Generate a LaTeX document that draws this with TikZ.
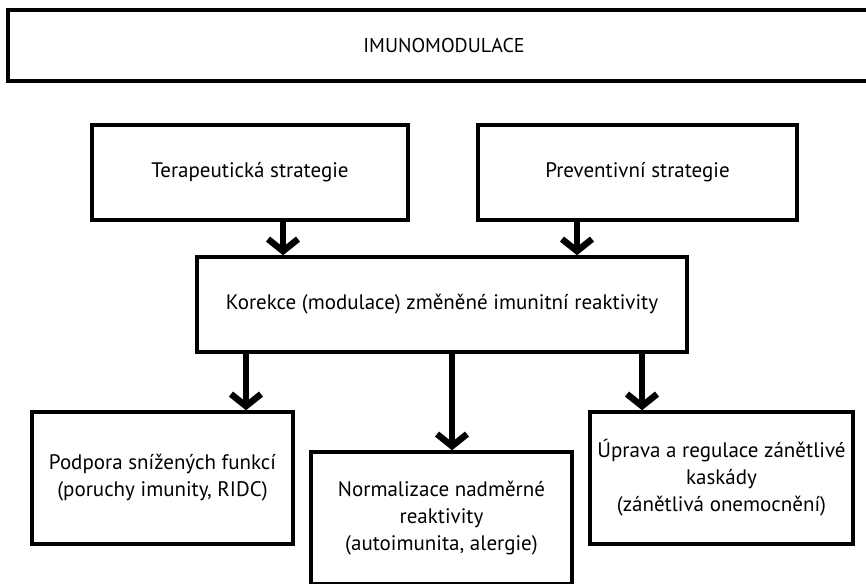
\documentclass[tikz,border=0pt]{standalone}
\usepackage{fontspec}
\setmainfont{PT Sans}
\usetikzlibrary{arrows.meta}

\begin{document}
\begin{tikzpicture}[x=1pt, y=-1pt,
  box/.style={draw, line width=3.5pt, align=center, inner sep=0pt, font=\fontsize{21}{27}\selectfont},
  arr/.style={line width=6.5pt, -{Straight Barb[length=12pt, width=30pt]}}
]
  \clip (0,0) rectangle (866,583);
  \node[box, minimum width=872pt, minimum height=71pt, font=\fontsize{20}{24}\selectfont] (imuno) at (444,45.5) {IMUNOMODULACE};
  \node[box, minimum width=316pt, minimum height=95pt] (terap) at (250,172.5) {Terapeutická strategie};
  \node[box, minimum width=319pt, minimum height=95pt] (prevent) at (637.5,172.5) {Preventivní strategie};
  \node[box, minimum width=490pt, minimum height=95pt] (korekce) at (442,304.5) {Korekce (modulace) změněné imunitní reaktivity};
  \node[box, minimum width=261pt, minimum height=132pt] (podpora) at (162.5,478) {Podpora snížených funkcí\\(poruchy imunity, RIDC)};
  \node[box, minimum width=261pt, minimum height=132pt] (normal) at (441.5,518) {Normalizace nadměrné\\reaktivity\\(autoimunita, alergie)};
  \node[box, minimum width=263pt, minimum height=132pt] (uprava) at (721.5,478) {Úprava a regulace zánětlivé\\kaskády\\(zánětlivá onemocnění)};

  \draw[arr] ([xshift=33pt]terap.south) -- ([xshift=33pt]terap.south |- korekce.north);
  \draw[arr] ([xshift=-60.5pt]prevent.south) -- ([xshift=-60.5pt]prevent.south |- korekce.north);
  \draw[arr] ([xshift=-196pt]korekce.south) -- ([xshift=-196pt]korekce.south |- podpora.north);
  \draw[arr] ([xshift=10pt]korekce.south) -- ([xshift=10pt]korekce.south |- normal.north);
  \draw[arr] ([xshift=200pt]korekce.south) -- ([xshift=200pt]korekce.south |- uprava.north);
\end{tikzpicture}
\end{document}
